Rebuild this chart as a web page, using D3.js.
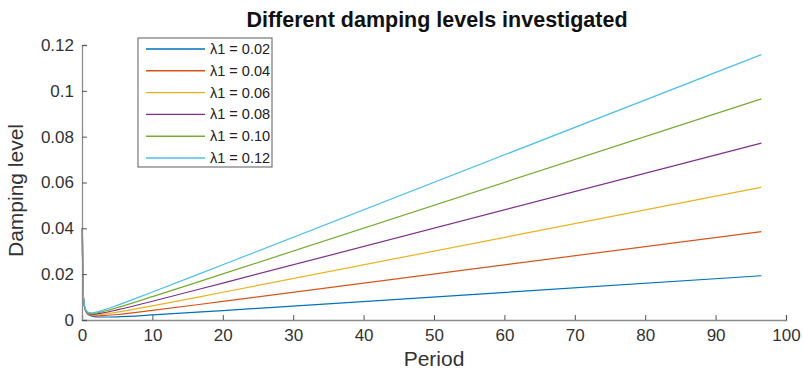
<!DOCTYPE html>
<html>
<head>
<meta charset="utf-8">
<script src="https://cdn.jsdelivr.net/npm/d3@7"></script>
<style>
  body { margin: 0; background: #fff; }
  text { font-family: "Liberation Sans", Arial, sans-serif; }
</style>
</head>
<body>
<script>

// period values sampled along each curve
var periods = [0.05, 0.1, 0.2, 0.4, 0.7, 1, 1.5, 2, 3, 5, 10, 20, 96.5];

var lambdas = ["0.02", "0.04", "0.06", "0.08", "0.10", "0.12"];
var colors = ["#0072bd", "#d95319", "#edb120", "#7e2f8e", "#77ac30", "#4dbeee"];

var damp002 = [0.0400, 0.0200, 0.0100, 0.0051, 0.0030, 0.0022, 0.0016, 0.0014, 0.0013, 0.0014, 0.0022, 0.0041, 0.0193];
var damp004 = [0.0400, 0.0200, 0.0101, 0.0052, 0.0031, 0.0024, 0.0019, 0.0018, 0.0019, 0.0024, 0.0042, 0.0081, 0.0386];
var damp006 = [0.0400, 0.0201, 0.0101, 0.0052, 0.0033, 0.0026, 0.0022, 0.0022, 0.0025, 0.0034, 0.0062, 0.0121, 0.0579];
var damp008 = [0.0400, 0.0201, 0.0102, 0.0053, 0.0034, 0.0028, 0.0025, 0.0026, 0.0031, 0.0044, 0.0082, 0.0161, 0.0772];
var damp010 = [0.0401, 0.0201, 0.0102, 0.0054, 0.0036, 0.0030, 0.0028, 0.0030, 0.0037, 0.0054, 0.0102, 0.0201, 0.0965];
var damp012 = [0.0401, 0.0201, 0.0102, 0.0055, 0.0037, 0.0032, 0.0031, 0.0034, 0.0043, 0.0064, 0.0122, 0.0241, 0.1158];

var xTicks = [0, 10, 20, 30, 40, 50, 60, 70, 80, 90, 100];
var yTicks = [0, 0.02, 0.04, 0.06, 0.08, 0.1, 0.12];

var allDamp = [damp002, damp004, damp006, damp008, damp010, damp012];

var width = 803, height = 374;
var margin = {left: 82, right: 17, top: 45, bottom: 54};
var w = width - margin.left - margin.right;
var h = height - margin.top - margin.bottom;

var x = d3.scaleLinear().domain([0, 100]).range([0, w]);
var y = d3.scaleLinear().domain([0, 0.12]).range([h, 0]);

var svg = d3.select("body").append("svg")
	.attr("width", width).attr("height", height);

var chartGroup = svg.append("g")
	.attr("transform", "translate(" + margin.left + "," + margin.top + ")");

var line = d3.line()
	.x(function(d){ return x(d.p); })
	.y(function(d){ return y(d.v); })
	.curve(d3.curveMonotoneX);

var series = allDamp.map(function(vals, i){
	return {name: lambdas[i], color: colors[i], values: periods.map(function(p, j){ return {p: p, v: vals[j]}; })};
});

chartGroup.selectAll(".series").data(series)
	.enter().append("path")
	.attr("class", "series")
	.attr("d", function(d){ return line(d.values); })
	.attr("fill", "none")
	.attr("stroke", function(d){ return d.color; })
	.attr("stroke-width", 1.2);

// axes, ticks pointing inward like matlab
var xAxis = d3.axisBottom(x).tickValues(xTicks).tickSize(-5).tickPadding(9).tickFormat(d3.format("d"));
var yAxis = d3.axisLeft(y).tickValues(yTicks).tickSize(-5).tickPadding(8)
	.tickFormat(function(d){ return d === 0 ? "0" : String(+d.toFixed(2)); });

var gx = chartGroup.append("g").attr("transform", "translate(0," + h + ")").call(xAxis);
var gy = chartGroup.append("g").call(yAxis);

[gx, gy].forEach(function(g){
	g.select(".domain").attr("stroke", "#8c8c8c").attr("stroke-width", 1.3);
	g.selectAll(".tick line").attr("stroke", "#555").attr("stroke-width", 1);
	g.selectAll(".tick text").attr("fill", "#333").style("font-size", "17px")
		.style("font-family", "'Liberation Sans', Arial, sans-serif");
});

chartGroup.append("text")
	.attr("x", w / 2)
	.attr("y", h + 46)
	.attr("text-anchor", "middle")
	.attr("fill", "#333")
	.style("font-size", "21px")
	.text("Period");

chartGroup.append("text")
	.attr("transform", "rotate(-90)")
	.attr("x", -h / 2 - 8)
	.attr("y", -59)
	.attr("text-anchor", "middle")
	.attr("fill", "#333")
	.style("font-size", "21px")
	.text("Damping level");

svg.append("text")
	.attr("x", margin.left + w / 2 + 3)
	.attr("y", 27)
	.attr("text-anchor", "middle")
	.attr("fill", "#111")
	.style("font-size", "21.5px")
	.style("font-weight", "bold")
	.text("Different damping levels investigated");

// legend
var legend = svg.append("g").attr("transform", "translate(138,38)");
legend.append("rect")
	.attr("width", 134).attr("height", 129)
	.attr("fill", "#fff").attr("stroke", "#777").attr("stroke-width", 1.2);

var item = legend.selectAll(".item").data(series)
	.enter().append("g")
	.attr("class", "item")
	.attr("transform", function(d, i){ return "translate(0," + (11 + i * 21.8) + ")"; });

item.append("line")
	.attr("x1", 8).attr("x2", 67)
	.attr("stroke", function(d){ return d.color; })
	.attr("stroke-width", 1.4);

item.append("text")
	.attr("x", 72)
	.attr("dy", "0.35em")
	.attr("fill", "#222")
	.style("font-size", "14.5px")
	.text(function(d){ return "\u03bb1 = " + d.name; });

</script>
</body>
</html>
